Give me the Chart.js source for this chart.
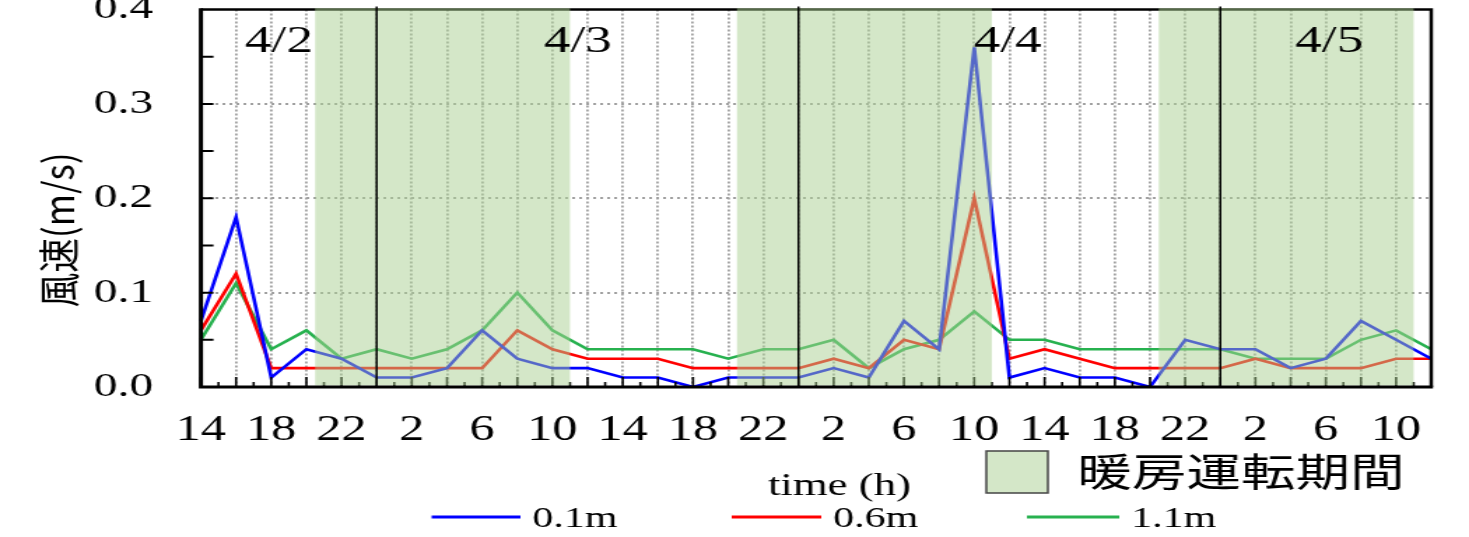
<!DOCTYPE html>
<html lang="ja">
<head>
<meta charset="utf-8">
<title>風速</title>
<script src="https://cdn.jsdelivr.net/npm/chart.js@4"></script>
<style>
  html, body { margin: 0; padding: 0; background: #fff; }
  #wrap { width: 1469px; height: 537px; overflow: hidden; }
</style>
</head>
<body>
<div id="wrap">
  <!-- canvas is drawn narrow and stretched sideways, like the original figure -->
  <canvas id="chart" width="1050" height="537" style="display:block;width:1469px;height:537px"></canvas>
</div>
<script>
// 4/2 14:00 〜 4/5 12:00, 2時間毎
const hourLabels = [14, 16, 18, 20, 22, 0, 2, 4, 6, 8, 10, 12,
                    14, 16, 18, 20, 22, 0, 2, 4, 6, 8, 10, 12,
                    14, 16, 18, 20, 22, 0, 2, 4, 6, 8, 10, 12];

const seriesNames = ['0.1m', '0.6m', '1.1m'];
const seriesColors = ['#0000ff', '#ff0000', '#27b14f'];

const speed01 = [0.07, 0.18, 0.01, 0.04, 0.03, 0.01, 0.01, 0.02, 0.06, 0.03, 0.02, 0.02,
                 0.01, 0.01, 0.00, 0.01, 0.01, 0.01, 0.02, 0.01, 0.07, 0.04, 0.36, 0.01,
                 0.02, 0.01, 0.01, 0.00, 0.05, 0.04, 0.04, 0.02, 0.03, 0.07, 0.05, 0.03];
const speed06 = [0.06, 0.12, 0.02, 0.02, 0.02, 0.02, 0.02, 0.02, 0.02, 0.06, 0.04, 0.03,
                 0.03, 0.03, 0.02, 0.02, 0.02, 0.02, 0.03, 0.02, 0.05, 0.04, 0.20, 0.03,
                 0.04, 0.03, 0.02, 0.02, 0.02, 0.02, 0.03, 0.02, 0.02, 0.02, 0.03, 0.03];
const speed11 = [0.05, 0.11, 0.04, 0.06, 0.03, 0.04, 0.03, 0.04, 0.06, 0.10, 0.06, 0.04,
                 0.04, 0.04, 0.04, 0.03, 0.04, 0.04, 0.05, 0.02, 0.04, 0.05, 0.08, 0.05,
                 0.05, 0.04, 0.04, 0.04, 0.04, 0.04, 0.03, 0.03, 0.03, 0.05, 0.06, 0.04];
const seriesValues = [speed01, speed06, speed11];

// 暖房運転期間（開始からの経過時間 h）
const heatingPeriods = [[6.5, 21], [30.5, 45], [54.5, 69]];

const dayLabels = ['4/2', '4/3', '4/4', '4/5'];
const dayLabelAt = [2.22, 10.72, 22.95, 32.1];   // x位置（データ番号）

const yTitle = '風速(m/s)';
const xTitle = 'time (h)';
const heatingLabel = '暖房運転期間';

const SERIF = '"Liberation Serif", "Times New Roman", serif';
const JP = '"Noto Sans CJK JP", sans-serif';
const SHADE = 'rgba(170,208,145,0.5)';

const decor = {
    id: 'decor',
    afterDatasetsDraw(chart) {
        const { ctx, chartArea: a, scales: { x, y } } = chart;
        const n = hourLabels.length;
        ctx.save();
        ctx.strokeStyle = '#000';

        // 上・右の枠
        ctx.lineWidth = 2.5;
        ctx.beginPath();
        ctx.moveTo(a.left, a.top);
        ctx.lineTo(a.right, a.top);
        ctx.lineTo(a.right, a.bottom);
        ctx.stroke();

        // x目盛（2h主目盛・1h副目盛、内向き）
        ctx.lineWidth = 1.6;
        ctx.beginPath();
        for (let i = 0; i < n; i++) {
            const px = x.getPixelForValue(i);
            ctx.moveTo(px, a.bottom);
            ctx.lineTo(px, a.bottom - 10);
            if (i < n - 1) {
                const mx = x.getPixelForValue(i + 0.5);
                ctx.moveTo(mx, a.bottom);
                ctx.lineTo(mx, a.bottom - 5);
            }
        }
        ctx.stroke();

        // y目盛（0.05毎）
        ctx.lineWidth = 2;
        ctx.beginPath();
        for (let k = 1; k < 8; k++) {
            const py = y.getPixelForValue(k * 0.05);
            ctx.moveTo(a.left, py);
            ctx.lineTo(a.left + 9, py);
        }
        ctx.stroke();

        // 暖房運転期間の網掛け
        ctx.fillStyle = SHADE;
        heatingPeriods.forEach(([s, e]) => {
            const x1 = x.getPixelForValue(s / 2);
            const x2 = x.getPixelForValue(e / 2);
            ctx.fillRect(x1, a.top - 1.3, x2 - x1, a.bottom - a.top - 0.2);
        });

        // 日付の区切り（0時）
        ctx.lineWidth = 1.5;
        ctx.beginPath();
        hourLabels.forEach((h, i) => {
            if (h !== 0) return;
            const px = x.getPixelForValue(i);
            ctx.moveTo(px, a.top - 3);
            ctx.lineTo(px, a.bottom);
        });
        ctx.stroke();

        // 左・下の軸
        ctx.lineWidth = 3;
        ctx.beginPath();
        ctx.moveTo(a.left, a.top - 1.25);
        ctx.lineTo(a.left, a.bottom);
        ctx.lineTo(a.right + 1.25, a.bottom);
        ctx.stroke();

        // 日付ラベル
        ctx.fillStyle = '#000';
        ctx.font = '38px ' + SERIF;
        ctx.textAlign = 'center';
        ctx.textBaseline = 'middle';
        dayLabels.forEach((t, i) => ctx.fillText(t, x.getPixelForValue(dayLabelAt[i]), 42));
        ctx.restore();
    },
    afterDraw(chart) {
        const ctx = chart.ctx;
        ctx.save();
        ctx.fillStyle = '#000';
        ctx.textBaseline = 'middle';

        // 縦軸タイトル
        ctx.save();
        ctx.font = '30px ' + JP;
        ctx.translate(41.6, 230);
        ctx.rotate(-Math.PI / 2);
        ctx.scale(155 / ctx.measureText(yTitle).width, 1);
        ctx.textAlign = 'center';
        ctx.fillText(yTitle, 0, 0);
        ctx.restore();

        // 横軸タイトル
        ctx.font = '32px ' + SERIF;
        ctx.textAlign = 'center';
        ctx.textBaseline = 'alphabetic';
        ctx.fillText(xTitle, 600, 495);

        // 暖房運転期間の凡例
        ctx.fillStyle = '#fff';
        ctx.fillRect(705, 451, 44, 42);
        ctx.fillStyle = SHADE;
        ctx.fillRect(705, 451, 44, 42);
        ctx.strokeStyle = '#444';
        ctx.lineWidth = 1.5;
        ctx.strokeRect(705, 451, 44, 42);
        ctx.fillStyle = '#000';
        ctx.font = '39px ' + JP;
        ctx.textAlign = 'left';
        ctx.textBaseline = 'middle';
        ctx.fillText(heatingLabel, 770, 471);

        // 系列の凡例
        const lineX = [[308.5, 372], [523, 587], [734, 800]];
        ctx.font = '30px ' + SERIF;
        chart.data.datasets.forEach((ds, i) => {
            ctx.strokeStyle = ds.borderColor;
            ctx.lineWidth = 3;
            ctx.beginPath();
            ctx.moveTo(lineX[i][0], 517);
            ctx.lineTo(lineX[i][1], 517);
            ctx.stroke();
            ctx.fillText(ds.label, lineX[i][1] + 8.5, 519);
        });
        ctx.restore();
    }
};

new Chart(document.getElementById('chart'), {
    type: 'line',
    data: {
        labels: hourLabels,
        datasets: seriesNames.map((name, i) => ({
            label: name,
            data: seriesValues[i],
            borderColor: seriesColors[i],
            borderWidth: 2.6,
            pointRadius: 0,
            tension: 0,
            fill: false
        }))
    },
    options: {
        responsive: false,
        animation: false,
        devicePixelRatio: 1,
        layout: { padding: { top: 9.5, right: 27, bottom: 0, left: 0 } },
        plugins: {
            legend: { display: false },
            tooltip: { enabled: false }
        },
        scales: {
            x: {
                grid: {
                    color: c => (c.index === 0 || c.index === hourLabels.length - 1) ? 'rgba(0,0,0,0)' : '#a0a0a0',
                    lineWidth: 1.8,
                    drawTicks: false,
                    borderDash: [2, 2]
                },
                border: { display: false, dash: [2, 2] },
                ticks: {
                    autoSkip: false,
                    maxRotation: 0,
                    padding: 22,
                    color: '#000',
                    font: { family: SERIF, size: 36 },
                    callback: (v, i) => i % 2 === 0 ? String(hourLabels[i]) : ''
                },
                afterFit: s => { s.height = 150; s.paddingLeft = 0; s.paddingRight = 0; }
            },
            y: {
                min: 0,
                max: 0.4,
                ticks: {
                    stepSize: 0.1,
                    padding: 34,
                    color: '#000',
                    font: { family: SERIF, size: 34 },
                    callback: v => v.toFixed(1)
                },
                grid: {
                    color: c => (c.index === 0 || c.index === 4) ? 'rgba(0,0,0,0)' : '#a0a0a0',
                    lineWidth: 2,
                    drawTicks: false,
                    borderDash: [2, 3]
                },
                border: { display: false, dash: [2, 3] },
                afterFit: s => { s.width = 143.6; s.paddingTop = 0; s.paddingBottom = 0; }
            }
        }
    },
    plugins: [decor]
});
</script>
</body>
</html>
